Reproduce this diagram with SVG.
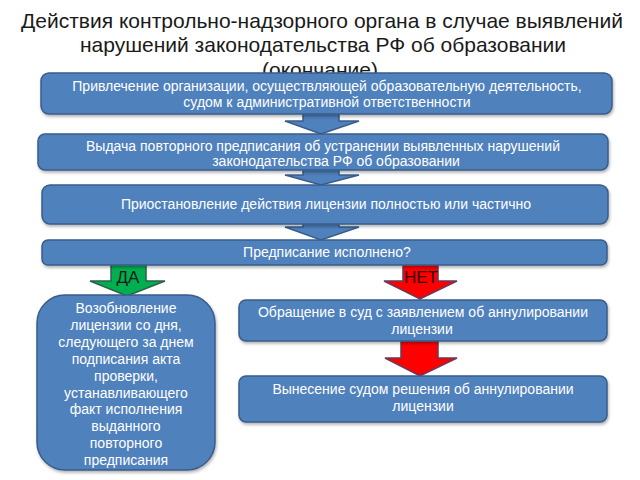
<svg xmlns="http://www.w3.org/2000/svg" width="640" height="480" viewBox="0 0 640 480">
<defs>
<filter id="sh" x="-10%" y="-10%" width="120%" height="130%">
<feDropShadow dx="1" dy="2" stdDeviation="1.5" flood-color="#000" flood-opacity="0.3"/>
</filter>
</defs>
<style>
.title{font-family:"Liberation Sans",Arial,sans-serif;font-size:21px;fill:#1a1a1a;text-anchor:middle}
.box{fill:#4f81bd;stroke:#385d8a;stroke-width:1.5;filter:url(#sh)}
.t{font-family:"Liberation Sans",Arial,sans-serif;font-size:14px;fill:#fff;text-anchor:middle}
.ab{fill:#4f81bd;stroke:#385d8a;stroke-width:1.5}
.ag{fill:#00b050;stroke:#2f5f4a;stroke-width:1.5}
.ar{fill:#ff0000;stroke:#6a3a5a;stroke-width:1.5}
.lab{font-family:"Liberation Sans",Arial,sans-serif;font-size:17px;text-anchor:middle}
</style>
<rect width="640" height="480" fill="#fff"/>
<g id="title">
<text class="title" x="322" y="28">Действия контрольно-надзорного органа в случае выявлений</text>
<text class="title" x="323" y="52">нарушений законодательства РФ об образовании</text>
<text class="title" x="320" y="77">(окончание)</text>
</g>
<g id="connectors">
<path class="ab" d="M303,110 H339 V121 H359 L321,134 L285,121 H303 Z"/>
<path class="ab" d="M303,168 H339 V175 H359 L321,185 L285,175 H303 Z"/>
<path class="ab" d="M303,222 H339 V227 H359 L321,240 L285,227 H303 Z"/>
<path class="ag" d="M111,264 H146 V281 H165 L127,296 L90,281 H111 Z"/>
<text class="lab" x="128" y="283" fill="#1a1a1a">ДА</text>
<path class="ar" d="M403,264 H438 V281 H457 L420,299 L384,281 H403 Z"/>
<text class="lab" x="421" y="283" fill="#2a0000">НЕТ</text>
<path class="ar" d="M401,341 H438 V358 H457 L420,376 L385,358 H401 Z"/>
</g>
<g id="n1">
<rect class="box" x="41" y="73" width="571" height="41" rx="8"/>
<text class="t" x="327" y="91">Привлечение организации, осуществляющей образовательную деятельность,</text>
<text class="t" x="327" y="107">судом  к административной ответственности</text>
</g>
<g id="n2">
<rect class="box" x="38" y="134" width="570" height="36" rx="7"/>
<text class="t" x="323" y="151">Выдача повторного предписания об устранении выявленных нарушений</text>
<text class="t" x="336" y="166">законодательства РФ об образовании</text>
</g>
<g id="n3">
<rect class="box" x="42" y="185" width="566" height="39" rx="8"/>
<text class="t" x="326" y="209">Приостановление действия лицензии полностью или частично</text>
</g>
<g id="n4">
<rect class="box" x="42" y="240" width="565" height="25" rx="6"/>
<text class="t" x="327" y="257">Предписание исполнено?</text>
</g>
<g id="n5">
<rect class="box" x="37" y="295" width="178" height="175" rx="28"/>
<text class="t" x="126" y="313">Возобновление</text>
<text class="t" x="126" y="330">лицензии со дня,</text>
<text class="t" x="126" y="347">следующего за днем</text>
<text class="t" x="126" y="364">подписания акта</text>
<text class="t" x="126" y="381">проверки,</text>
<text class="t" x="126" y="398">устанавливающего</text>
<text class="t" x="126" y="414">факт исполнения</text>
<text class="t" x="126" y="431">выданного</text>
<text class="t" x="126" y="448">повторного</text>
<text class="t" x="126" y="465">предписания</text>
</g>
<g id="n6">
<rect class="box" x="239" y="300" width="368" height="41" rx="7"/>
<text class="t" x="423" y="317">Обращение в суд с заявлением об аннулировании</text>
<text class="t" x="422" y="334">лицензии</text>
</g>
<g id="n7">
<rect class="box" x="239" y="376" width="368" height="46" rx="7"/>
<text class="t" x="423" y="394">Вынесение судом решения об аннулировании</text>
<text class="t" x="423" y="411">лицензии</text>
</g>
</svg>
